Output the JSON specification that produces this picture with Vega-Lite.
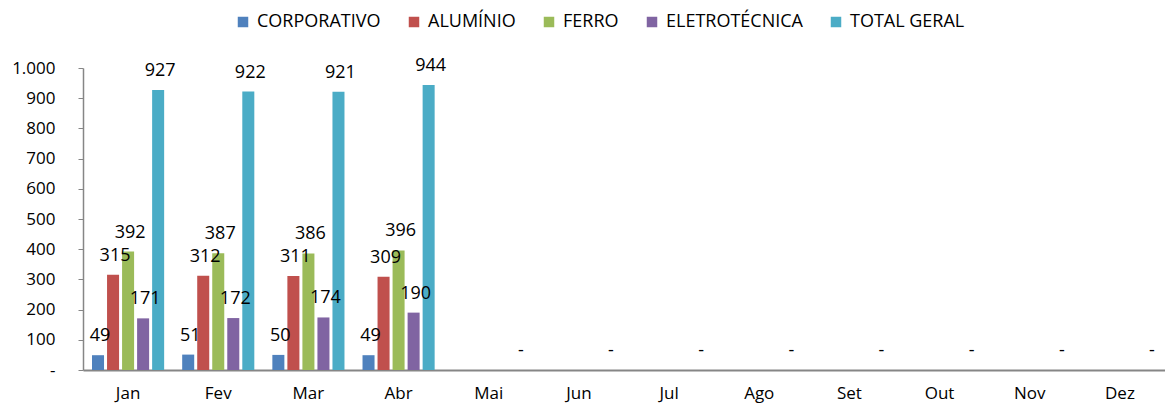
{
  "$schema": "https://vega.github.io/schema/vega-lite/v6.json",
  "width": 1082,
  "height": 302,
  "autosize": "none",
  "padding": {"left": 83, "top": 68, "right": 0, "bottom": 33},
  "background": "white",
  "config": {
    "font": "Open Sans",
    "view": {"stroke": null},
    "axis": {"labelColor": "black", "labelFont": "Open Sans", "grid": false, "title": null}
  },
  "data": {
    "values": [
      {"mes": "Jan", "serie": "CORPORATIVO", "valor": 49},
      {"mes": "Jan", "serie": "ALUMÍNIO", "valor": 315},
      {"mes": "Jan", "serie": "FERRO", "valor": 392},
      {"mes": "Jan", "serie": "ELETROTÉCNICA", "valor": 171},
      {"mes": "Jan", "serie": "TOTAL GERAL", "valor": 927},
      {"mes": "Fev", "serie": "CORPORATIVO", "valor": 51},
      {"mes": "Fev", "serie": "ALUMÍNIO", "valor": 312},
      {"mes": "Fev", "serie": "FERRO", "valor": 387},
      {"mes": "Fev", "serie": "ELETROTÉCNICA", "valor": 172},
      {"mes": "Fev", "serie": "TOTAL GERAL", "valor": 922},
      {"mes": "Mar", "serie": "CORPORATIVO", "valor": 50},
      {"mes": "Mar", "serie": "ALUMÍNIO", "valor": 311},
      {"mes": "Mar", "serie": "FERRO", "valor": 386},
      {"mes": "Mar", "serie": "ELETROTÉCNICA", "valor": 174},
      {"mes": "Mar", "serie": "TOTAL GERAL", "valor": 921},
      {"mes": "Abr", "serie": "CORPORATIVO", "valor": 49},
      {"mes": "Abr", "serie": "ALUMÍNIO", "valor": 309},
      {"mes": "Abr", "serie": "FERRO", "valor": 396},
      {"mes": "Abr", "serie": "ELETROTÉCNICA", "valor": 190},
      {"mes": "Abr", "serie": "TOTAL GERAL", "valor": 944},
      {"mes": "Mai", "serie": "TOTAL GERAL", "valor": 0},
      {"mes": "Jun", "serie": "TOTAL GERAL", "valor": 0},
      {"mes": "Jul", "serie": "TOTAL GERAL", "valor": 0},
      {"mes": "Ago", "serie": "TOTAL GERAL", "valor": 0},
      {"mes": "Set", "serie": "TOTAL GERAL", "valor": 0},
      {"mes": "Out", "serie": "TOTAL GERAL", "valor": 0},
      {"mes": "Nov", "serie": "TOTAL GERAL", "valor": 0},
      {"mes": "Dez", "serie": "TOTAL GERAL", "valor": 0}
    ]
  },
  "encoding": {
    "x": {
      "field": "mes", "type": "nominal",
      "scale": {"domain": ["Jan","Fev","Mar","Abr","Mai","Jun","Jul","Ago","Set","Out","Nov","Dez"], "paddingInner": 0.2, "paddingOuter": 0.1},
      "axis": {"labelAngle": 0, "labelFontSize": 17, "ticks": false, "labelPadding": 15, "domainColor": "#868686", "domainWidth": 2}
    },
    "xOffset": {
      "field": "serie", "type": "nominal",
      "scale": {"domain": ["CORPORATIVO","ALUMÍNIO","FERRO","ELETROTÉCNICA","TOTAL GERAL"], "paddingInner": 0.2, "paddingOuter": 0}
    },
    "y": {
      "field": "valor", "type": "quantitative",
      "scale": {"domain": [0, 1000], "nice": false},
      "axis": {"values": [0,100,200,300,400,500,600,700,800,900,1000], "labelExpr": "datum.value === 0 ? '-' : replace(format(datum.value, ','), ',', '.')", "labelFontSize": 17, "tickSize": 5, "tickColor": "#868686", "domainColor": "#868686", "domainWidth": 1.5, "labelPadding": 23}
    }
  },
  "layer": [
    {
      "mark": {"type": "bar"},
      "encoding": {
        "color": {
          "field": "serie", "type": "nominal",
          "scale": {"domain": ["CORPORATIVO","ALUMÍNIO","FERRO","ELETROTÉCNICA","TOTAL GERAL"], "range": ["#4F81BD","#C0504D","#9BBB59","#8064A2","#4BACC6"]},
          "legend": {
            "orient": "none", "legendX": 151, "legendY": -55, "direction": "horizontal", "title": null,
            "symbolType": "square", "symbolSize": 110, "symbolStrokeWidth": 0, "labelFontSize": 18, "labelColor": "black",
            "labelOffset": 5, "columnPadding": 24, "labelFont": "Open Sans"
          }
        }
      }
    },
    {
      "mark": {"type": "text", "fontSize": 18, "dy": -14, "dx": 2, "baseline": "alphabetic", "color": "black"},
      "encoding": {
        "text": {"condition": {"test": "datum.valor === 0", "value": "-"}, "field": "valor", "type": "quantitative", "format": "d"}
      }
    }
  ]
}
